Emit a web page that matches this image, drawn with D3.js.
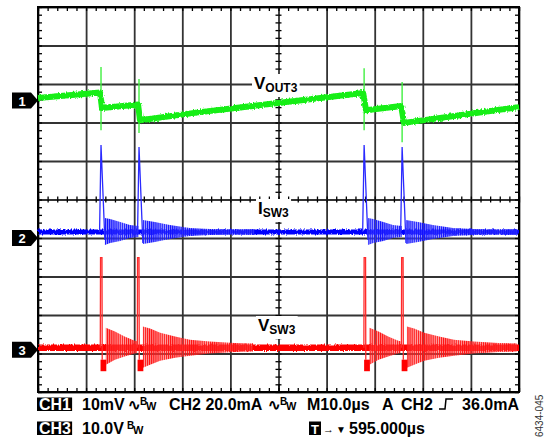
<!DOCTYPE html>
<html><head><meta charset="utf-8">
<script src="https://cdn.jsdelivr.net/npm/d3@7"></script>
<style>body{margin:0;background:#fff}svg{display:block}text{font-family:"Liberation Sans",Arial,sans-serif;font-weight:bold}</style>
</head><body><svg id="c" width="546" height="440"></svg>
<script>
// ---------------- data ----------------
const timeDomain = [0, 100];      // µs (M10.0µs / div, 10 div)
const divDomain = [-5, 5];        // vertical divisions

// CH1 : VOUT3 (mV, 10 mV/div) — centre of the noisy band
const ch1T = [0, 12.9, 13.3, 20.8, 21.2, 33.7, 49.9, 67.6, 68.2, 75.5, 76.1, 87.7, 100];
const ch1V = [0.65, 2.1, -1.95, -1.0, -5.1, -3.0, -0.65, 1.95, -2.5, -1.4, -5.8, -3.8, -1.7];
const ch1SpikeT = [13.1, 21.0, 67.8, 75.7];
const ch1SpikeHi = [8.7, 5.6, 8.4, 4.8];
const ch1SpikeLo = [-7.7, -8.4, -7.7, -10.8];

// CH2 : ISW3 (mA, 20 mA/div)
const ch2Base = 3.1;
const ch2EventT = [13.1, 21.0, 67.8, 75.7];
const ch2EventKind = ["A", "B", "A", "B"];
const ch2Top = [48.3, 47.3, 48.3, 47.3];
const ch2Trough = [-1.0, -2.6, -1.0, -2.6];
const ch2SpikeDt = [-0.3, 0, 0.8];
const ch2RingA = { dt: [0.8, 1.9, 4.0, 6.0, 7.8], hi: [10.4, 9.9, 8.3, 6.8, 6.2], lo: [-3.6, -2.6, -1.6, 0.0, 0.5] };
const ch2RingB = { dt: [0.8, 3.3, 6.4, 10.6, 14.8, 18.9, 24.0], hi: [9.4, 8.3, 6.8, 5.2, 4.7, 4.4, 4.7], lo: [-3.1, -2.1, -0.5, 1.0, 1.6, 1.8, 1.6] };

// CH3 : VSW3 (V, 10 V/div)
const ch3Base = 0.5;
const ch3EventT = [13.0, 20.7, 67.8, 75.6];
const ch3EventKind = ["A", "B", "A", "B"];
const ch3Top = [23.9, 23.9, 23.9, 23.9];
const ch3SpikeDt = [-0.05, 0, 0.3, 0.35];
const ch3BlobDt = [0.0, 1.2];
const ch3BlobV = [-2.6, -5.6];
const ch3RingA = { dt: [1.1, 3.0, 5.0, 7.1, 7.6], hi: [5.7, 4.7, 3.4, 2.3, 2.2], lo: [-3.9, -2.6, -1.8, -1.0, -0.9] };
const ch3RingB = { dt: [1.1, 2.6, 4.7, 7.8, 10.9, 15.0, 20.2, 24.0], hi: [6.0, 5.5, 4.4, 3.4, 2.6, 2.1, 1.7, 1.6], lo: [-4.7, -3.9, -2.9, -2.1, -1.6, -1.0, -0.6, -0.5] };

// channel ground markers (divisions) and scale factors (units / div)
const channelNames = ["1", "2", "3"];
const channelOffsetDiv = [2.57, -1.0, -3.9];
const channelPerDiv = [10, 20, 10];

// read-out texts
const row1 = ["10mV", "CH2 20.0mA", "M10.0µs", "A", "CH2", "36.0mA"];
const row2 = ["10.0V", "595.000µs"];
const traceLabels = [{ main: "V", sub: "OUT3" }, { main: "I", sub: "SW3" }, { main: "V", sub: "SW3" }];
const figId = "6434-045";

// ---------------- drawing ----------------
const svg = d3.select("#c");
const X0 = 38, X1 = 519, Y0 = 7, Y1 = 392;
const x = d3.scaleLinear().domain(timeDomain).range([X0, X1]);
const y = d3.scaleLinear().domain(divDomain).range([Y1, Y0]);
const ch = i => v => y(channelOffsetDiv[i] + v / channelPerDiv[i]);
const y1 = ch(0), y2 = ch(1), y3 = ch(2);

const defs = svg.append("defs");
const f = defs.append("filter").attr("id", "rough").attr("filterUnits", "userSpaceOnUse")
  .attr("x", 0).attr("y", 0).attr("width", 546).attr("height", 440);
f.append("feTurbulence").attr("type", "fractalNoise").attr("baseFrequency", "0.9 0.25").attr("numOctaves", 2).attr("seed", 3).attr("result", "n");
f.append("feDisplacementMap").attr("in", "SourceGraphic").attr("in2", "n").attr("scale", 3.5).attr("xChannelSelector", "R").attr("yChannelSelector", "G");

function stripes(id, bg, fg) {
  const p = defs.append("pattern").attr("id", id).attr("patternUnits", "userSpaceOnUse").attr("width", 2.1).attr("height", 20);
  p.append("rect").attr("width", 2.1).attr("height", 20).attr("fill", bg);
  p.append("rect").attr("width", 1.1).attr("height", 20).attr("fill", fg);
}
stripes("ringBlue", "rgba(90,90,255,0.55)", "#1010ff");
stripes("ringRed", "rgba(255,90,90,0.55)", "#ff1010");

// ---- grid ----
const gGrid = svg.append("g");
const major = d3.range(0, 101, 10), majorY = d3.range(-5, 5.01, 1);
gGrid.append("g").attr("transform", `translate(0,${Y1})`)
  .call(d3.axisBottom(x).tickValues(major).tickSize(-(Y1 - Y0)).tickFormat(""))
  .call(g => g.select(".domain").remove())
  .call(g => g.selectAll("line").attr("stroke", "#333").attr("stroke-width", 1.8));
gGrid.append("g").attr("transform", `translate(${X0},0)`)
  .call(d3.axisLeft(y).tickValues(majorY).tickSize(-(X1 - X0)).tickFormat(""))
  .call(g => g.select(".domain").remove())
  .call(g => g.selectAll("line").attr("stroke", "#333").attr("stroke-width", 1.8));

// minor ticks
const minorX = d3.range(0, 100.01, 2), minorY = d3.range(-5, 5.01, 0.2);
function tickAxis(axis, tr, size) {
  gGrid.append("g").attr("transform", tr).call(axis.tickSize(size).tickFormat(""))
    .call(g => g.select(".domain").remove())
    .call(g => g.selectAll("line").attr("stroke", "#000").attr("stroke-width", 1.3));
}
tickAxis(d3.axisBottom(x).tickValues(minorX), `translate(0,${Y0})`, 4);
tickAxis(d3.axisTop(x).tickValues(minorX), `translate(0,${Y1})`, 4);
tickAxis(d3.axisRight(y).tickValues(minorY), `translate(${X0},0)`, 4);
tickAxis(d3.axisLeft(y).tickValues(minorY), `translate(${X1},0)`, 4);
tickAxis(d3.axisBottom(x).tickValues(minorX), `translate(0,${y(0)})`, 3);
tickAxis(d3.axisTop(x).tickValues(minorX), `translate(0,${y(0)})`, 3);
tickAxis(d3.axisRight(y).tickValues(minorY), `translate(${x(50)},0)`, 3);
tickAxis(d3.axisLeft(y).tickValues(minorY), `translate(${x(50)},0)`, 3);
tickAxis(d3.axisTop(x).tickValues([50]), `translate(0,${Y1})`, 8);
gGrid.append("rect").attr("x", X0).attr("y", Y0).attr("width", X1 - X0).attr("height", Y1 - Y0)
  .attr("fill", "none").attr("stroke", "#000").attr("stroke-width", 2);

// ---- trace labels (white boxes) ----
const labelPos = [[254, 89], [258, 214], [258, 331]];
const gLab = svg.append("g");
traceLabels.forEach((l, i) => {
  const g = gLab.append("g").attr("transform", `translate(${labelPos[i][0]},${labelPos[i][1]})`);
  const t = g.append("text").attr("font-size", 17).attr("fill", "#000");
  t.append("tspan").text(l.main);
  t.append("tspan").attr("font-size", 12).attr("dy", 3).text(l.sub);
  const bb = t.node().getBBox();
  g.insert("rect", "text").attr("x", bb.x - 2).attr("y", bb.y).attr("width", bb.width + 4).attr("height", bb.height + 2).attr("fill", "#fff");
});

// ---- CH3 (red) ----
const gR = svg.append("g");
const kindR = { A: ch3RingA, B: ch3RingB };
gR.append("line").attr("x1", x(0)).attr("x2", x(100)).attr("y1", y3(ch3Base)).attr("y2", y3(ch3Base))
  .attr("stroke", "#ff0000").attr("stroke-width", 6.5).attr("filter", "url(#rough)");
ch3EventT.forEach((t0, i) => {
  const r = kindR[ch3EventKind[i]];
  const pts = r.dt.map((d, j) => ({ t: t0 + d, hi: r.hi[j], lo: r.lo[j] }));
  gR.append("path").datum(pts)
    .attr("d", d3.area().x(d => x(d.t)).y0(d => y3(d.lo)).y1(d => y3(d.hi)))
    .attr("fill", "url(#ringRed)");
  gR.append("rect").attr("x", x(t0 + ch3BlobDt[0])).attr("width", x(t0 + ch3BlobDt[1]) - x(t0 + ch3BlobDt[0]))
    .attr("y", y3(ch3BlobV[0])).attr("height", y3(ch3BlobV[1]) - y3(ch3BlobV[0])).attr("fill", "#ff0000");
  const sv = [ch3Base, ch3Top[i], ch3Top[i], ch3BlobV[0]];
  gR.append("path").datum(ch3SpikeDt.map((d, j) => [t0 + d, sv[j]]))
    .attr("d", d3.line().x(d => x(d[0])).y(d => y3(d[1])))
    .attr("fill", "none").attr("stroke", "#ff2a2a").attr("stroke-width", 1.3);
});

// ---- CH2 (blue) ----
const gB = svg.append("g");
const kindB = { A: ch2RingA, B: ch2RingB };
gB.append("line").attr("x1", x(0)).attr("x2", x(100)).attr("y1", y2(ch2Base)).attr("y2", y2(ch2Base))
  .attr("stroke", "#0000ff").attr("stroke-width", 5).attr("filter", "url(#rough)");
ch2EventT.forEach((t0, i) => {
  const r = kindB[ch2EventKind[i]];
  const pts = r.dt.map((d, j) => ({ t: t0 + d, hi: r.hi[j], lo: r.lo[j] }));
  gB.append("path").datum(pts)
    .attr("d", d3.area().x(d => x(d.t)).y0(d => y2(d.lo)).y1(d => y2(d.hi)))
    .attr("fill", "url(#ringBlue)");
  const sv = [ch2Base, ch2Top[i], ch2Trough[i]];
  gB.append("path").datum(ch2SpikeDt.map((d, j) => [t0 + d, sv[j]]))
    .attr("d", d3.line().x(d => x(d[0])).y(d => y2(d[1])))
    .attr("fill", "none").attr("stroke", "#2a2aff").attr("stroke-width", 1.3);
});

// ---- CH1 (green) ----
const gG = svg.append("g");
ch1SpikeT.forEach((t0, i) => {
  gG.append("line").attr("x1", x(t0)).attr("x2", x(t0)).attr("y1", y1(ch1SpikeHi[i])).attr("y2", y1(ch1SpikeLo[i]))
    .attr("stroke", "#40f040").attr("stroke-width", 1.4);
});
gG.append("path").datum(ch1T.map((t, i) => [t, ch1V[i]]))
  .attr("d", d3.line().x(d => x(d[0])).y(d => y1(d[1])))
  .attr("fill", "none").attr("stroke", "#14ee14").attr("stroke-width", 6).attr("stroke-linejoin", "round")
  .attr("filter", "url(#rough)");

// ---- channel markers ----
channelNames.forEach((n, i) => {
  const cy = y(channelOffsetDiv[i]);
  const g = svg.append("g").attr("transform", `translate(${X0},${cy})`);
  g.append("path").attr("d", "M-26,-8H-7L0,0L-7,8H-26Z").attr("fill", "#000");
  g.append("text").attr("x", -16).attr("y", 5).attr("text-anchor", "middle").attr("fill", "#fff").attr("font-size", 13).text(n);
});

// ---- read-out ----
const gT = svg.append("g");
function boxText(xp, yb, s) {
  const t = gT.append("text").attr("x", xp + 2).attr("y", yb).attr("font-size", 16).attr("fill", "#fff").text(s);
  const bb = t.node().getBBox();
  gT.insert("rect", "text").attr("x", xp).attr("y", yb - 12.5).attr("width", bb.width + 3).attr("height", 13.5).attr("fill", "#000");
}
function txt(xp, yb, s, size) { return gT.append("text").attr("x", xp).attr("y", yb).attr("font-size", size || 16).attr("fill", "#000").text(s); }
function bw(xp, yb) { txt(xp, yb - 5, "B", 10); txt(xp + 6, yb, "W", 11); }
const r1 = 410, r2 = 434;
boxText(37, r1, "CH1");
txt(82, r1, row1[0]);
txt(128, r1, "∿", 15); bw(140, r1);
txt(169, r1, row1[1]);
txt(268, r1, "∿", 15); bw(280, r1);
txt(307, r1, row1[2]);
txt(382, r1, row1[3]);
txt(401, r1, row1[4]);
gT.append("path").attr("d", `M439,${r1 - 1}H445L446,${r1 - 11}H453`).attr("fill", "none").attr("stroke", "#000").attr("stroke-width", 1.5);
txt(519, r1, row1[5]).attr("text-anchor", "end");
boxText(37, r2, "CH3");
txt(82, r2, row2[0]); bw(127, r2);
gT.append("rect").attr("x", 309).attr("y", r2 - 12.5).attr("width", 12).attr("height", 13.5).attr("fill", "#000");
txt(315, r2, "T", 13).attr("fill", "#fff").attr("text-anchor", "middle");
txt(323, r2 - 1, "→", 11);
txt(336, r2 - 1, "▼", 10);
txt(349, r2, row2[1]);
gT.append("text").attr("transform", "translate(543,437) rotate(-90)").attr("font-size", 10)
  .style("font-weight", "normal").attr("fill", "#333").text(figId);
</script></body></html>
